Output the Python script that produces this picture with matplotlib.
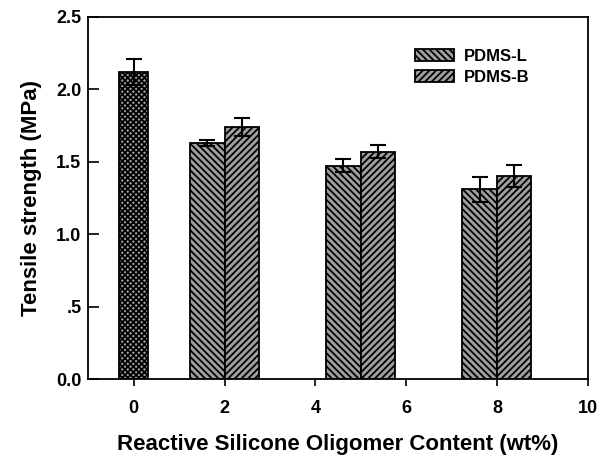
import matplotlib
matplotlib.use("Agg")
import matplotlib.pyplot as plt
import numpy as np

plt.rcParams['font.family'] = ['Liberation Sans', 'DejaVu Sans']
plt.rcParams['font.weight'] = 'bold'
plt.rcParams['hatch.linewidth'] = 1.3

# Data
control_x = [0]
control_val = [2.12]
control_err = [0.09]

group_x = [2, 5, 8]
pdms_l = [1.63, 1.473, 1.311]
pdms_l_err = [0.02, 0.045, 0.087]
pdms_b = [1.741, 1.570, 1.402]
pdms_b_err = [0.062, 0.046, 0.078]

series_labels = ['PDMS-L', 'PDMS-B']
xticks = [0, 2, 4, 6, 8, 10]
yticks = [0.0, 0.5, 1.0, 1.5, 2.0, 2.5]
ytick_labels = ['0.0', '.5', '1.0', '1.5', '2.0', '2.5']

fig = plt.figure(figsize=(6.1, 4.58), dpi=100)
ax = fig.add_axes([0.1448, 0.1714, 0.8187, 0.7922])

face = '#a0a0a0'
w = 0.76
ekw = dict(ecolor='black', elinewidth=1.5, capsize=6, capthick=1.5)

ax.bar(control_x, control_val, width=0.63, color=face, edgecolor='black',
       linewidth=1.3, hatch='xxxxxx', yerr=control_err, error_kw=ekw, zorder=2)
gx = np.array(group_x, dtype=float)
ax.bar(gx - w/2, pdms_l, width=w, color=face, edgecolor='black', linewidth=1.3,
       hatch='\\\\\\\\\\', yerr=pdms_l_err, error_kw=ekw, label=series_labels[0], zorder=2)
ax.bar(gx + w/2, pdms_b, width=w, color=face, edgecolor='black', linewidth=1.3,
       hatch='/////', yerr=pdms_b_err, error_kw=ekw, label=series_labels[1], zorder=2)

ax.set_xlim(-1, 10)
ax.set_ylim(0, 2.5)
ax.set_xticks(xticks)
ax.set_yticks(yticks)
ax.set_yticklabels(ytick_labels)
ax.tick_params(axis='x', direction='out', length=5, width=1.2, labelsize=13, pad=10)
ax.tick_params(axis='y', direction='in', length=8, width=1.2, labelsize=13, pad=5)
for s in ax.spines.values():
    s.set_linewidth(1.3)

ax.set_xlabel('Reactive Silicone Oligomer Content (wt%)', fontsize=16, fontweight='bold', labelpad=12)
ax.set_ylabel('Tensile strength (MPa)', fontsize=16, fontweight='bold', labelpad=10)

leg = ax.legend(loc='upper left', bbox_to_anchor=(0.641, 0.929), frameon=False,
                handlelength=2.35, handleheight=0.7, handletextpad=0.55,
                labelspacing=0.33, borderaxespad=0.0,
                prop={'size': 12, 'weight': 'bold'})

fig.savefig('out.png', dpi=100)
